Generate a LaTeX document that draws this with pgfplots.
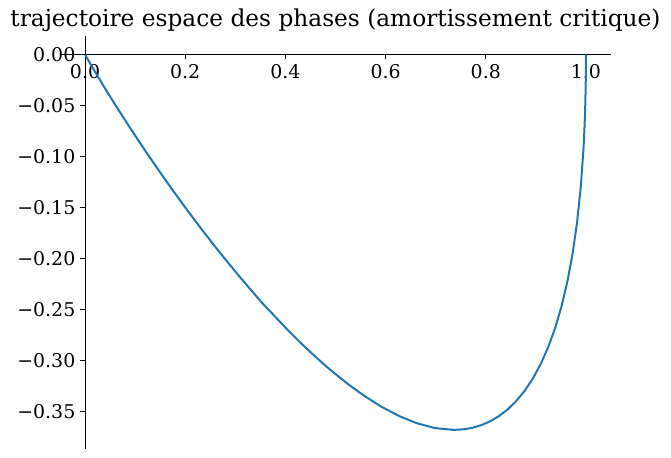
\documentclass[border=0pt]{standalone}
\usepackage{fontspec}
\setmainfont{DejaVu Serif}
\usepackage{pgfplots}
\pgfplotsset{compat=1.18}
\definecolor{mplblue}{HTML}{1F77B4}

% critical damping: x=(1+t)e^{-t}, v=-t e^{-t}, values tabulated by hand
\pgfplotstableread{
x v
1.000000 0.000000
0.999693 -0.024383
0.998791 -0.047561
0.997324 -0.069581
0.995321 -0.090484
0.989814 -0.129106
0.982477 -0.163746
0.973501 -0.194700
0.963063 -0.222245
0.951329 -0.246641
0.938448 -0.268128
0.924561 -0.286933
0.909796 -0.303265
0.894272 -0.317322
0.878099 -0.329287
0.861376 -0.339330
0.844195 -0.347610
0.826642 -0.354275
0.808792 -0.359463
0.790718 -0.363303
0.772483 -0.365913
0.754145 -0.367404
0.735758 -0.367879
0.699029 -0.366158
0.662627 -0.361433
0.626824 -0.354292
0.591833 -0.345236
0.557825 -0.334695
0.524932 -0.323035
0.493247 -0.310563
0.462837 -0.297538
0.433750 -0.284181
0.406005 -0.270670
0.354050 -0.243767
0.308441 -0.217723
0.267386 -0.193112
0.231078 -0.170268
0.199148 -0.149361
0.158597 -0.121714
0.125690 -0.098366
0.091580 -0.073264
0.061100 -0.049991
0.040428 -0.033690
0.017353 -0.014874
0.007296 -0.006384
0.003015 -0.002680
0.000499 -0.000454
}\traj

\begin{document}
\begin{tikzpicture}
\begin{axis}[
    scale only axis,
    width=413.25pt,
    height=309.75pt,
    xmin=-0.05, xmax=1.05,
    ymin=-0.3863, ymax=0.0184,
    axis x line=middle,
    axis y line=middle,
    axis line style={-, line width=0.8pt},
    tick align=outside,
    major tick length=3.75pt,
    every tick/.style={black, line width=0.8pt},
    hide obscured x ticks=false,
    hide obscured y ticks=false,
    xtick={0,0.2,0.4,0.6,0.8,1.0},
    xticklabels={0.0,0.2,0.4,0.6,0.8,1.0},
    ytick={-0.35,-0.30,-0.25,-0.20,-0.15,-0.10,-0.05,0},
    yticklabels={−0.35,−0.30,−0.25,−0.20,−0.15,−0.10,−0.05,0.00},
    tick label style={font=\fontsize{14.2}{16}\selectfont},
    clip=false,
]
\addplot[mplblue, line width=1.5pt, no markers] table[x=x, y=v] {\traj};
\node[anchor=base, inner sep=0pt, yshift=6.8pt, font=\fontsize{17.45}{20}\selectfont]
    at (rel axis cs:0.5,1) {trajectoire espace des phases (amortissement critique)};
\coordinate (bl) at (rel axis cs:-0.1089,-0.0225);
\coordinate (tr) at (rel axis cs:1.1089,1.0864);
\end{axis}
\pgfresetboundingbox
\useasboundingbox (bl) rectangle (tr);
\end{tikzpicture}
\end{document}
